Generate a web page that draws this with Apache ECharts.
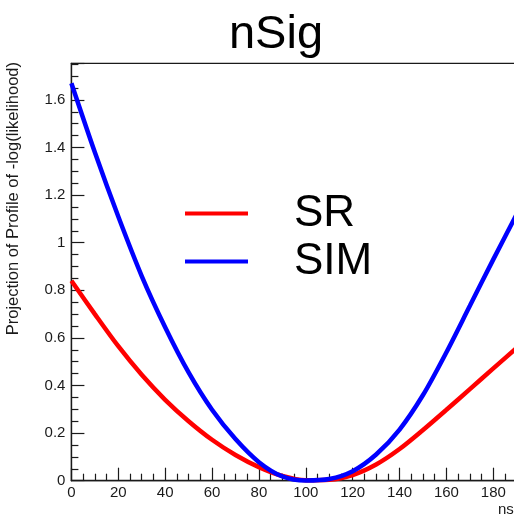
<!DOCTYPE html>
<html><head><meta charset="utf-8">
<script src="https://cdn.jsdelivr.net/npm/echarts@6/dist/echarts.min.js"></script>
<style>html,body{margin:0;padding:0;background:#fff}#c{width:514px;height:518px}</style>
</head><body><div id="c"></div>
<script>
const xValues   = [0, 10, 20, 30, 40, 50, 60, 70, 80, 90, 100, 110, 120, 130, 140, 150, 160, 170, 180, 190, 200];
const srValues  = [0.84, 0.70, 0.565, 0.445, 0.34, 0.25, 0.172, 0.108, 0.057, 0.02, 0.002, 0.004, 0.024, 0.068, 0.133, 0.213, 0.298, 0.385, 0.472, 0.558, 0.643];
const simValues = [1.67, 1.38, 1.11, 0.86, 0.645, 0.455, 0.298, 0.175, 0.078, 0.018, 0.001, 0.007, 0.04, 0.11, 0.215, 0.36, 0.54, 0.735, 0.93, 1.12, 1.31];
const seriesNames = ['SR', 'SIM'];
const chartTitle = 'nSig';
const xTitle = 'nsig';
const yTitle = 'Projection of Profile of -log(likelihood)';

const FONT = '"Liberation Sans", Arial, Helvetica, sans-serif';
const AX = '#1a1a1a';
const chart = echarts.init(document.getElementById('c'), null, {renderer: 'canvas'});
const axisCommon = {
  type: 'value',
  axisLine: {show: true, onZero: false, lineStyle: {color: AX, width: 1.3}},
  axisTick: {show: true, inside: true, length: 13, lineStyle: {color: AX, width: 1.2}},
  minorTick: {show: true, splitNumber: 4, length: 7, lineStyle: {color: AX, width: 1.2}},
  splitLine: {show: false},
  axisLabel: {fontSize: 15, color: AX, fontFamily: FONT}
};
chart.setOption({
  backgroundColor: '#fff',
  animation: false,
  grid: {left: 71.4, top: 63.3, right: -26.2, bottom: 37.3, show: true, borderColor: AX, borderWidth: 1.3,
         containLabel: false, outerBoundsMode: 'none'},
  xAxis: Object.assign({}, axisCommon, {min: 0, max: 200, interval: 20,
    axisLabel: Object.assign({}, axisCommon.axisLabel, {margin: 5})}),
  yAxis: Object.assign({}, axisCommon, {min: 0, max: 1.754, interval: 0.2,
    axisLabel: Object.assign({}, axisCommon.axisLabel, {margin: 6, showMaxLabel: false})}),
  legend: {
    data: [{name: seriesNames[0], icon: 'rect'}, {name: seriesNames[1], icon: 'rect'}],
    orient: 'vertical', left: 185, top: 189.5, padding: 0, itemWidth: 63, itemHeight: 4, itemGap: 0,
    selectedMode: false,
    textStyle: {fontSize: 44, lineHeight: 48, color: '#000', fontFamily: FONT, padding: [0, 0, 0, 41]}
  },
  graphic: [
    {type: 'text', x: 276, y: 35, style: {text: chartTitle, font: '47px ' + FONT, fill: '#000', textAlign: 'center', textVerticalAlign: 'middle'}},
    {type: 'text', x: 13.5, y: 62, rotation: Math.PI / 2, style: {text: yTitle, font: '16.5px ' + FONT, fill: AX, textAlign: 'right', textVerticalAlign: 'middle'}},
    {type: 'text', x: 498, y: 510, style: {text: xTitle, font: '15px ' + FONT, fill: AX, textAlign: 'left', textVerticalAlign: 'middle'}}
  ],
  series: [
    {name: seriesNames[0], type: 'line', data: xValues.map((x, i) => [x, srValues[i]]), showSymbol: false, symbol: 'none', smooth: 0.3,
     lineStyle: {color: '#ff0000', width: 4.5}, itemStyle: {color: '#ff0000'}},
    {name: seriesNames[1], type: 'line', data: xValues.map((x, i) => [x, simValues[i]]), showSymbol: false, symbol: 'none', smooth: 0.3,
     lineStyle: {color: '#0000ff', width: 4.5}, itemStyle: {color: '#0000ff'}}
  ]
});
</script></body></html>
